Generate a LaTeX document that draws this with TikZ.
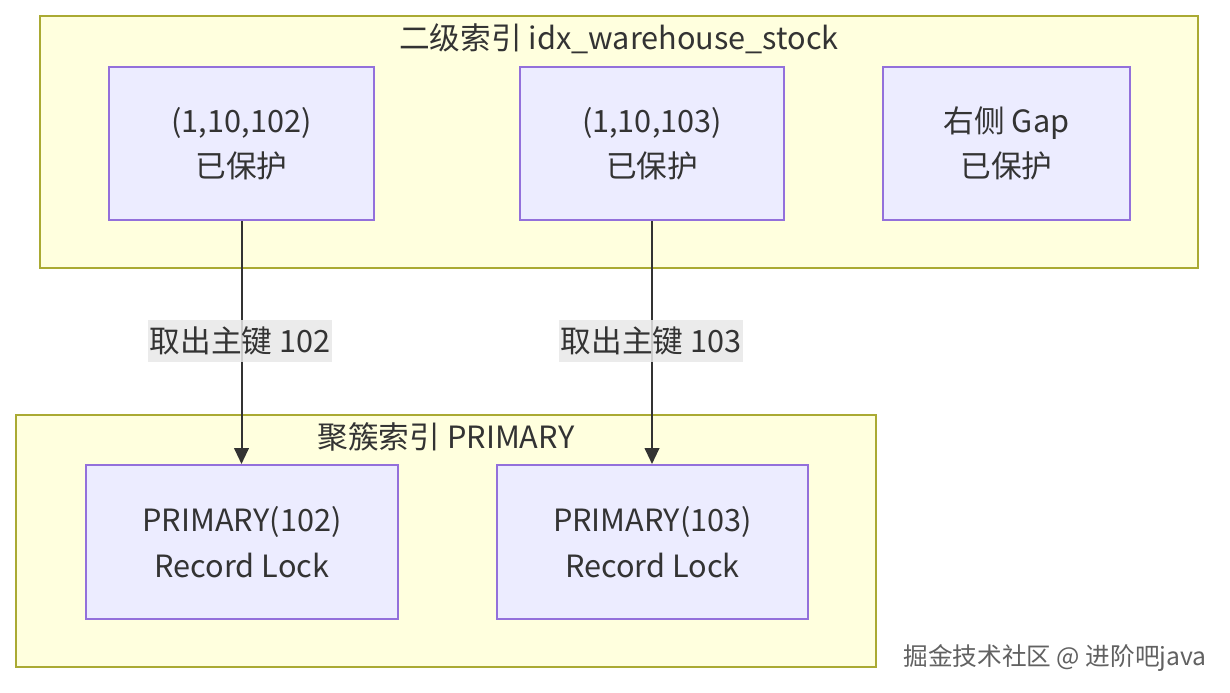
\documentclass[tikz,border=0pt]{standalone}
\usepackage{fontspec}
\setmainfont{Noto Sans CJK SC}
\usetikzlibrary{arrows.meta}
\definecolor{clfill}{HTML}{FFFFDE}
\definecolor{cldraw}{HTML}{AAAA33}
\definecolor{ndfill}{HTML}{ECECFF}
\definecolor{nddraw}{HTML}{9370DB}
\definecolor{txt}{HTML}{333333}
\definecolor{lblbg}{HTML}{E8E8E8}
\tikzset{
  cluster/.style={draw=cldraw, fill=clfill, line width=1.5pt},
  nodebox/.style={draw=nddraw, fill=ndfill, line width=1.5pt, align=center, text=txt,
    font=\fontsize{23}{34}\selectfont, inner sep=0pt, anchor=north west},
  ctitle/.style={text=txt, font=\fontsize{23}{27}\selectfont, inner sep=0pt},
  edgelbl/.style={fill=lblbg, fill opacity=0.85, text opacity=1, text=txt,
    font=\fontsize{23}{27}\selectfont, inner xsep=1.5pt, inner ysep=5pt},
  conn/.style={draw=txt, line width=1.5pt, -{Triangle[length=12pt,width=11pt]}},
  wmark/.style={font=\fontsize{18.5}{22}\selectfont, inner sep=0pt},
}
\begin{document}
\begin{tikzpicture}[x=0.75pt,y=-0.75pt]
\useasboundingbox[fill=white] (0,0) rectangle (1230,692);
% clusters
\draw[cluster] (40,16) rectangle (1198,268);
\node[ctitle] (t1) at (619,39) {二级索引 idx\_warehouse\_stock};
\draw[cluster] (16,415) rectangle (876,667);
\node[ctitle] (t2) at (446,437) {聚簇索引 PRIMARY};
% top nodes
\node[nodebox, minimum width=265*0.75pt, minimum height=153*0.75pt] (a) at (108,66) {(1,10,102)\\已保护};
\node[nodebox, minimum width=264*0.75pt, minimum height=153*0.75pt] (b) at (519,66) {(1,10,103)\\已保护};
\node[nodebox, minimum width=247*0.75pt, minimum height=153*0.75pt] (c) at (882,66) {右侧 Gap\\已保护};
% bottom nodes
\node[nodebox, minimum width=312*0.75pt, minimum height=154*0.75pt] (d) at (85,464) {PRIMARY(102)\\Record Lock};
\node[nodebox, minimum width=311*0.75pt, minimum height=154*0.75pt] (e) at (496,464) {PRIMARY(103)\\Record Lock};
% connectors
\draw[conn] (a.south) -- (a.south |- d.north);
\draw[conn] (b.south) -- (b.south |- e.north);
\node[edgelbl] (l1) at (240,341) {取出主键 102};
\node[edgelbl] (l2) at (651,341) {取出主键 103};
% watermark
\node[wmark, text=white] (w0) at (1056.5,659.5) {掘金技术社区 @ 进阶吧java};
\node[wmark, text=black!62] (w) at (1055,658) {掘金技术社区 @ 进阶吧java};
\end{tikzpicture}
\end{document}
